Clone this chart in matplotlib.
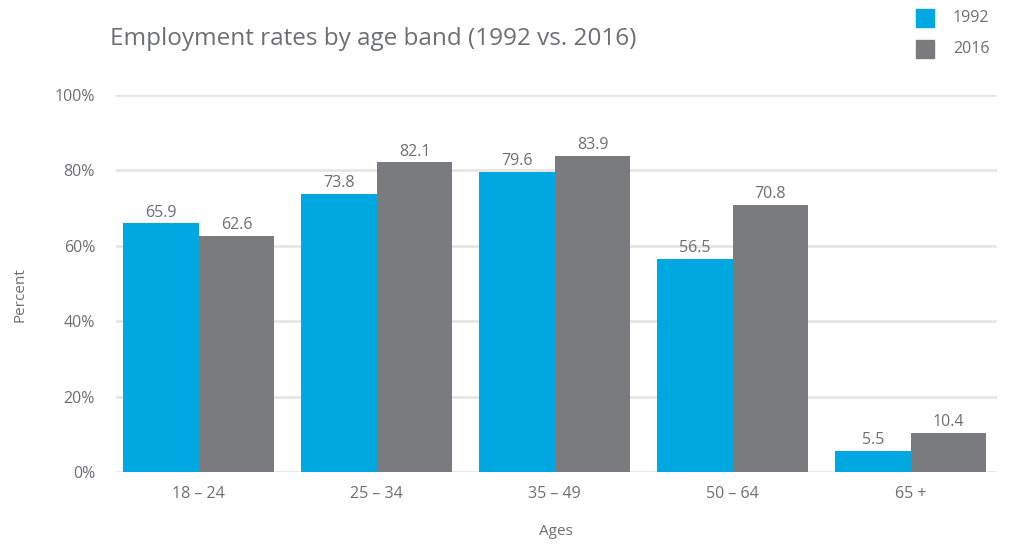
import matplotlib.pyplot as plt
import numpy as np
from matplotlib.patches import Rectangle

age_bands = ["18 – 24", "25 – 34", "35 – 49", "50 – 64", "65 +"]
rates_1992 = [65.9, 73.8, 79.6, 56.5, 5.5]
rates_2016 = [62.6, 82.1, 83.9, 70.8, 10.4]
y_ticks = [0, 20, 40, 60, 80, 100]
y_tick_labels = ["0%", "20%", "40%", "60%", "80%", "100%"]

BLUE = "#00a8e2"
GREY = "#7a7b7f"
TEXT = "#6d6e71"
GRID = "#e6e6e1"
FONT = "Open Sans"

plt.rcParams["font.family"] = [FONT, "DejaVu Sans"]

fig = plt.figure(figsize=(10.17, 5.45), dpi=100)
ax = fig.add_axes([0.114, 0.134, 0.866, 0.692])

x = np.arange(len(age_bands))
w = 0.424
b1 = ax.bar(x - w / 2, rates_1992, width=w, color=BLUE, zorder=3)
b2 = ax.bar(x + w / 2, rates_2016, width=w, color=GREY, zorder=3)

for bars, vals in ((b1, rates_1992), (b2, rates_2016)):
    for rect, v in zip(bars, vals):
        ax.annotate(f"{v:.1f}", (rect.get_x() + rect.get_width() / 2, v),
                    xytext=(0, 2), textcoords="offset points",
                    ha="center", va="bottom", fontsize=11.5, color=TEXT)

ax.set_xlim(-0.466, len(age_bands) - 1 + 0.483)
ax.set_ylim(0, 100)
ax.set_yticks(y_ticks)
ax.set_yticklabels(y_tick_labels)
ax.set_xticks(x)
ax.set_xticklabels(age_bands)
ax.tick_params(axis="both", length=0, labelsize=11.5, labelcolor=TEXT)
ax.tick_params(axis="y", pad=15)
ax.tick_params(axis="x", pad=10)
ax.grid(axis="y", color=GRID, linewidth=2, zorder=0)
ax.set_axisbelow(True)
for s in ax.spines.values():
    s.set_visible(False)

ax.set_ylabel("Percent", fontsize=11, color=TEXT)
ax.yaxis.set_label_coords(-0.109, 0.47)
ax.set_xlabel("Ages", fontsize=11, color=TEXT)
ax.xaxis.set_label_coords(0.5, -0.159)
ax.xaxis.label.set_va("center")
ax.yaxis.label.set_va("center")

fig.text(0.108, 0.928, "Employment rates by age band (1992 vs. 2016)",
         fontsize=17.5, color=TEXT, ha="left", va="center", fontweight="medium")

# legend swatches and labels in figure pixels
W, H = 1017, 545
for i, (label, col) in enumerate((("1992", BLUE), ("2016", GREY))):
    y0 = 9 + i * 31
    fig.patches.append(Rectangle((916 / W, 1 - (y0 + 18) / H), 18 / W, 18 / H,
                                 transform=fig.transFigure, color=col))
    fig.text(953 / W, 1 - (y0 + 9) / H, label, fontsize=11.5, color=TEXT,
             ha="left", va="center")

fig.savefig("out.png", dpi=100, facecolor="white")
